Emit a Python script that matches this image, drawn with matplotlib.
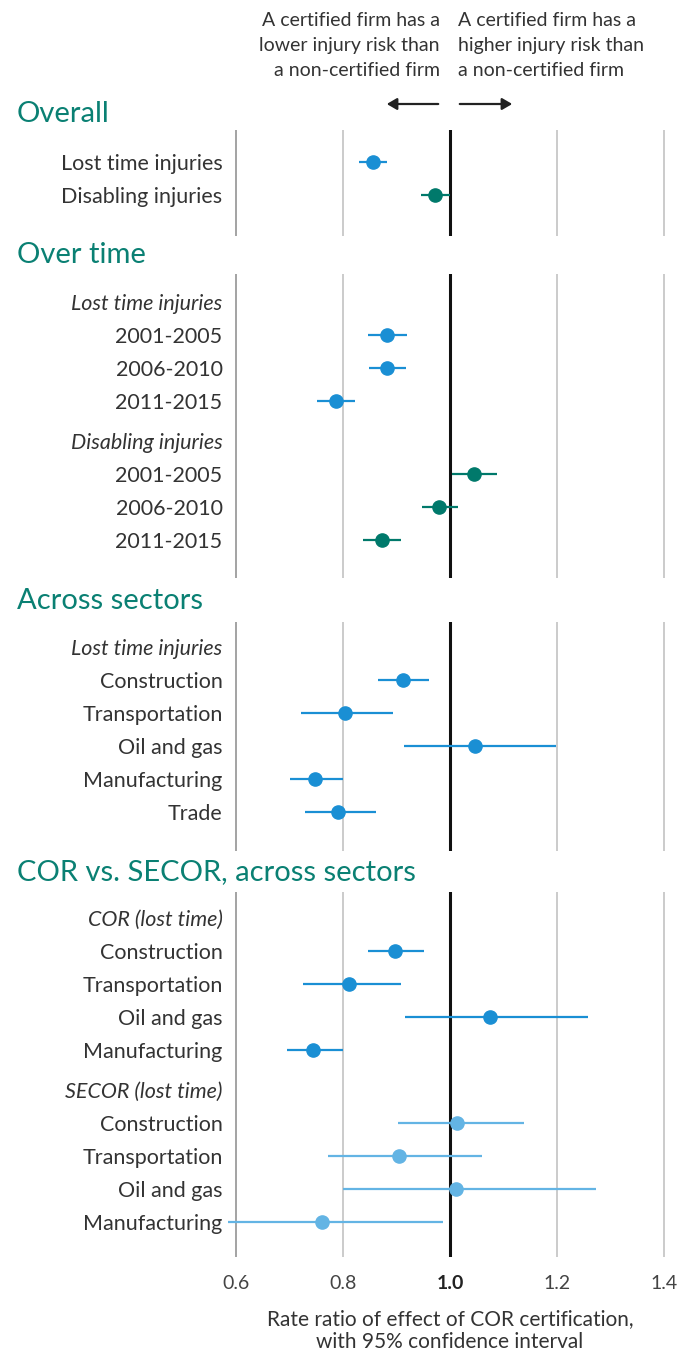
import matplotlib
matplotlib.use("Agg")
import matplotlib.pyplot as plt

plt.rcParams["font.family"] = ["Lato", "DejaVu Sans"]

# ---- data (rate ratio, 95% CI) ----
overall_labels = ["Lost time injuries", "Disabling injuries"]
overall_est = [0.856, 0.972]
overall_lo = [0.829, 0.945]
overall_hi = [0.883, 1.000]

periods = ["2001-2005", "2006-2010", "2011-2015"]
lt_time_est = [0.882, 0.883, 0.786]
lt_time_lo = [0.847, 0.849, 0.751]
lt_time_hi = [0.920, 0.918, 0.822]
dis_time_est = [1.045, 0.980, 0.872]
dis_time_lo = [1.004, 0.947, 0.838]
dis_time_hi = [1.088, 1.015, 0.908]

sectors = ["Construction", "Transportation", "Oil and gas", "Manufacturing", "Trade"]
sector_est = [0.912, 0.803, 1.046, 0.748, 0.791]
sector_lo = [0.866, 0.721, 0.914, 0.700, 0.729]
sector_hi = [0.961, 0.894, 1.198, 0.800, 0.861]

cor_sectors = ["Construction", "Transportation", "Oil and gas", "Manufacturing"]
cor_est = [0.898, 0.811, 1.074, 0.744]
cor_lo = [0.847, 0.725, 0.916, 0.695]
cor_hi = [0.951, 0.909, 1.258, 0.800]
secor_est = [1.013, 0.904, 1.011, 0.761]
secor_lo = [0.902, 0.772, 0.800, 0.585]
secor_hi = [1.139, 1.060, 1.272, 0.987]

xticks = [0.6, 0.8, 1.0, 1.2, 1.4]

# ---- style ----
BLUE = "#1a8fd4"
TEAL = "#00796b"
LIGHT = "#63b4e4"
HEAD = "#0a8073"
TXT = "#333333"

W, H = 690, 1353
ROW = 33.0      # px between rows
GAP = 7.0       # extra px before a second sub-header
X0, X1 = 0.58, 1.42
AX_LEFT = 236 - (0.6 - X0) * 535
AX_W = (X1 - X0) * 535

fig = plt.figure(figsize=(W / 100, H / 100), dpi=100)


def rect(top, height):
    return [AX_LEFT / W, 1 - (top + height) / H, AX_W / W, height / H]


def panel(top, rows, top_m=29, bot_m=36, show_x=False):
    """rows: list of (label, italic, est, lo, hi, color) or ('gap',)"""
    ys, y = [], 0.0
    kept = []
    for r in rows:
        if r[0] == "gap":
            y += GAP / ROW
            continue
        ys.append(y)
        kept.append(r)
        y += 1
    last = ys[-1]
    height = top_m + last * ROW + bot_m
    ax = fig.add_axes(rect(top, height))
    ax.set_xlim(X0, X1)
    ax.set_ylim(last + bot_m / ROW, -top_m / ROW)
    for s in ax.spines.values():
        s.set_visible(False)
    for xv in xticks:
        if xv == 1.0:
            ax.axvline(xv, color="#111111", lw=2.2, zorder=1)
        elif xv == 0.6:
            ax.axvline(xv, color="#8a8a8a", lw=1.1, zorder=1)
        else:
            ax.axvline(xv, color="#bdbdbd", lw=1.1, zorder=1)
    for yv, r in zip(ys, kept):
        lab, ital, est, lo, hi, col = r
        if est is None:
            continue
        ax.plot([lo, hi], [yv, yv], color=col, lw=1.6, zorder=2,
                solid_capstyle="butt", clip_on=False)
        ax.plot(est, yv, "o", color=col, ms=9.5, zorder=3, clip_on=False)
    ax.set_yticks(ys)
    ax.set_yticklabels([r[0] for r in kept], fontsize=15.5, color=TXT)
    for tl, r in zip(ax.get_yticklabels(), kept):
        if r[1]:
            tl.set_fontstyle("italic")
    ax.tick_params(axis="y", length=0, pad=2)
    if show_x:
        ax.set_xticks(xticks)
        ax.set_xticklabels([f"{v:.1f}" for v in xticks], fontsize=14, color="#444444")
        for tl, v in zip(ax.get_xticklabels(), xticks):
            if v == 1.0:
                tl.set_fontweight("bold")
                tl.set_color("#222222")
        ax.tick_params(axis="x", length=0, pad=13)
    else:
        ax.set_xticks([])
    return ax


def header(y, s):
    fig.text(17 / W, 1 - y / H, s, fontsize=21, color=HEAD, va="center", ha="left")


# ---- top annotation ----
left_note = ["A certified firm has a", "lower injury risk than", "a non-certified firm"]
right_note = ["A certified firm has a", "higher injury risk than", "a non-certified firm"]
for i, (a, b) in enumerate(zip(left_note, right_note)):
    yy = 1 - (20 + i * 25) / H
    fig.text(440 / W, yy, a, ha="right", va="center", fontsize=14, color=TXT)
    fig.text(458 / W, yy, b, ha="left", va="center", fontsize=14, color=TXT)
ya = 1 - 104 / H
fig.add_artist(matplotlib.patches.FancyArrowPatch(
    (441 / W, ya), (384 / W, ya), transform=fig.transFigure,
    arrowstyle="-|>,head_length=6,head_width=3.5", lw=1.6, color="#222222"))
fig.add_artist(matplotlib.patches.FancyArrowPatch(
    (457 / W, ya), (515 / W, ya), transform=fig.transFigure,
    arrowstyle="-|>,head_length=6,head_width=3.5", lw=1.6, color="#222222"))

# ---- panels ----
header(114, "Overall")
panel(130, [(overall_labels[0], False, overall_est[0], overall_lo[0], overall_hi[0], BLUE),
            (overall_labels[1], False, overall_est[1], overall_lo[1], overall_hi[1], TEAL)],
      top_m=32, bot_m=41)

header(255, "Over time")
rows = [("Lost time injuries", True, None, None, None, None)]
rows += [(p, False, e, l, h, BLUE) for p, e, l, h in zip(periods, lt_time_est, lt_time_lo, lt_time_hi)]
rows += [("gap",), ("Disabling injuries", True, None, None, None, None)]
rows += [(p, False, e, l, h, TEAL) for p, e, l, h in zip(periods, dis_time_est, dis_time_lo, dis_time_hi)]
panel(274, rows, top_m=28, bot_m=38)

header(601, "Across sectors")
rows = [("Lost time injuries", True, None, None, None, None)]
rows += [(s, False, e, l, h, BLUE) for s, e, l, h in zip(sectors, sector_est, sector_lo, sector_hi)]
panel(622, rows, top_m=25, bot_m=39)

header(872, "COR vs. SECOR, across sectors")
rows = [("COR (lost time)", True, None, None, None, None)]
rows += [(s, False, e, l, h, BLUE) for s, e, l, h in zip(cor_sectors, cor_est, cor_lo, cor_hi)]
rows += [("gap",), ("SECOR (lost time)", True, None, None, None, None)]
rows += [(s, False, e, l, h, LIGHT) for s, e, l, h in zip(cor_sectors, secor_est, secor_lo, secor_hi)]
panel(892, rows, top_m=26, bot_m=35, show_x=True)

fig.text(450 / W, 1 - 1319 / H, "Rate ratio of effect of COR certification,",
         ha="center", va="center", fontsize=15, color=TXT)
fig.text(450 / W, 1 - 1342 / H, "with 95% confidence interval",
         ha="center", va="center", fontsize=15, color=TXT)

fig.savefig("out.png", dpi=100)
